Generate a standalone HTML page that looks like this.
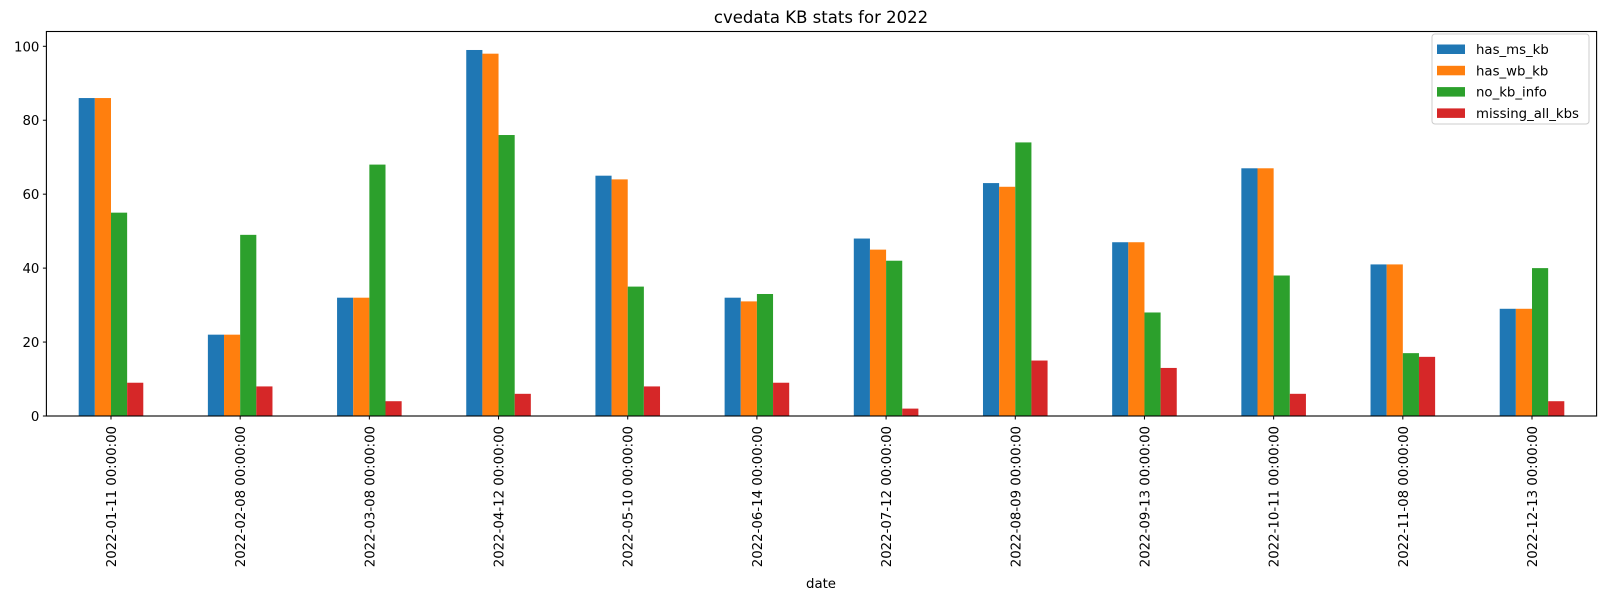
<!DOCTYPE html>
<html><head><meta charset="utf-8"><style>
body{margin:0;background:#fff;}
svg{display:block;font-family:"DejaVu Sans","Liberation Sans",sans-serif;}
</style></head><body>
<svg id="chart" width="1606" height="602" viewBox="0 0 1606 602">
<rect width="1606" height="602" fill="#fff"/>
<text x="821" y="23" text-anchor="middle" font-size="16.5">cvedata KB stats for 2022</text>
<g id="bars"></g>
<g id="yaxis"></g>
<g id="xaxis"></g>
<rect x="46.4" y="31.5" width="1550.2" height="384.5" fill="none" stroke="#000" stroke-width="1.1"/>
<text x="821" y="588" text-anchor="middle" font-size="13.3">date</text>
<g id="legend"></g>
</svg>
<script>
const categories=["2022-01-11 00:00:00","2022-02-08 00:00:00","2022-03-08 00:00:00","2022-04-12 00:00:00","2022-05-10 00:00:00","2022-06-14 00:00:00","2022-07-12 00:00:00","2022-08-09 00:00:00","2022-09-13 00:00:00","2022-10-11 00:00:00","2022-11-08 00:00:00","2022-12-13 00:00:00"];
const seriesNames=["has_ms_kb","has_wb_kb","no_kb_info","missing_all_kbs"];
const hasMsKb=[86,22,32,99,65,32,48,63,47,67,41,29];
const hasWbKb=[86,22,32,98,64,31,45,62,47,67,41,29];
const noKbInfo=[55,49,68,76,35,33,42,74,28,38,17,40];
const missingAllKbs=[9,8,4,6,8,9,2,15,13,6,16,4];
const yTicks=[0,20,40,60,80,100];
const colors=["#1f77b4","#ff7f0e","#2ca02c","#d62728"];
const series=[hasMsKb,hasWbKb,noKbInfo,missingAllKbs];
const NS="http://www.w3.org/2000/svg";
const plotLeft=46.4,plotRight=1596.6,plotTop=31.5,plotBottom=416;
const yMax=104;
const nCat=categories.length;
const unit=(plotRight-plotLeft)/nCat;
function xPos(i){return plotLeft+unit*(i+0.5);}
function yPos(v){return plotBottom-(v/yMax)*(plotBottom-plotTop);}
function mk(tag,attrs,parent){const e=document.createElementNS(NS,tag);for(const k in attrs)e.setAttribute(k,attrs[k]);parent.appendChild(e);return e;}
const gb=document.getElementById('bars');
const bw=unit*0.125;
series.forEach((s,si)=>{
  s.forEach((v,i)=>{
    const x=xPos(i)-unit*0.25+si*bw;
    const r=mk('rect',{x:x,y:yPos(v),width:bw,height:plotBottom-yPos(v),fill:colors[si]},gb);
    
    
  });
});
const gy=document.getElementById('yaxis');
yTicks.forEach(t=>{
  const y=yPos(t);
  const l=mk('line',{x1:plotLeft-3.5,x2:plotLeft,y1:y,y2:y,stroke:'#000','stroke-width':1},gy);
  
  
  const tx=mk('text',{x:plotLeft-7,y:y+5,'text-anchor':'end','font-size':13.3},gy);
  tx.textContent=t;
  
  
});
const gx=document.getElementById('xaxis');
categories.forEach((c,i)=>{
  const x=xPos(i);
  const l=mk('line',{x1:x,x2:x,y1:plotBottom,y2:plotBottom+3.5,stroke:'#000','stroke-width':1},gx);
  
  
  const tx=mk('text',{x:0,y:0,'text-anchor':'end','font-size':13.3,transform:'translate('+(x+5)+','+(plotBottom+10)+') rotate(-90)'},gx);
  tx.textContent=c;
  
  
});
const lg=document.getElementById('legend');
const box=mk('rect',{x:1432,y:34,width:157,height:90,rx:3,fill:'#fff','fill-opacity':0.8,stroke:'#ccc'},lg);


seriesNames.forEach((nm,i)=>{
  const y=49+i*21.3;
  const sw=mk('rect',{x:1437,y:y-4.5,width:28,height:9.5,fill:colors[i]},lg);
  
  
  const t=mk('text',{x:1476,y:y+5,'font-size':13.3},lg);
  t.textContent=nm;
  
  
});
</script>
</body></html>
